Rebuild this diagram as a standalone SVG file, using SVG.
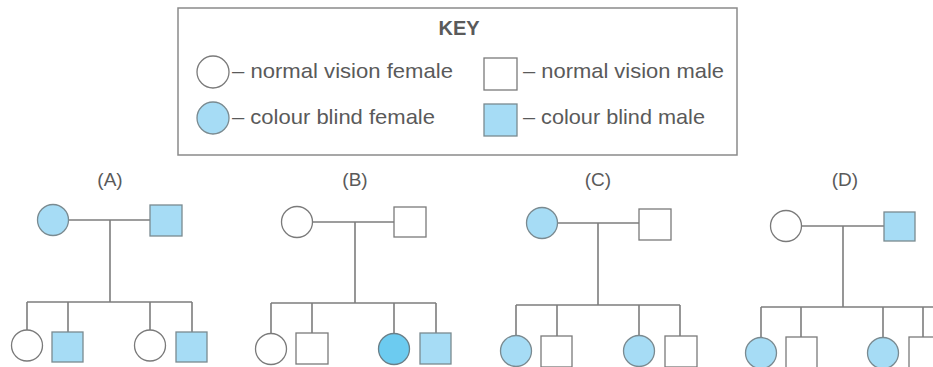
<svg xmlns="http://www.w3.org/2000/svg" width="933" height="367" viewBox="0 0 933 367">
<style>
  .bg{fill:#ffffff}
  .ln{stroke:#7d7d7d;stroke-width:1.6;fill:none}
  .w{fill:#ffffff;stroke:#7a7a7a;stroke-width:1.3}
  .b{fill:#a6dcf5;stroke:#7a8a90;stroke-width:1.3}
  .d{fill:#6ccbf0;stroke:#6a7f88;stroke-width:1.3}
  .t{font-family:"Liberation Sans",Arial,sans-serif;font-size:21px;fill:#5a5a5a}
  .k{font-family:"Liberation Sans",Arial,sans-serif;font-size:20px;font-weight:bold;fill:#5a5a5a}
  .lab{font-family:"Liberation Sans",Arial,sans-serif;font-size:19px;fill:#5a5a5a;text-anchor:middle}
</style>
<rect class="bg" x="0" y="0" width="933" height="367"/>
<g id="key">
  <rect x="178" y="8" width="559" height="147" fill="#ffffff" stroke="#8a8a8a" stroke-width="1.5"/>
  <text class="k" x="459" y="35" text-anchor="middle">KEY</text>
  <circle class="w" cx="213" cy="72" r="16"/>
  <text class="t" x="232" y="78" textLength="221" lengthAdjust="spacingAndGlyphs">– normal vision female</text>
  <circle class="b" cx="213" cy="118" r="16"/>
  <text class="t" x="232" y="124" textLength="203" lengthAdjust="spacingAndGlyphs">– colour blind female</text>
  <rect class="w" x="484" y="58" width="33" height="32"/>
  <text class="t" x="523" y="78" textLength="201" lengthAdjust="spacingAndGlyphs">– normal vision male</text>
  <rect class="b" x="484" y="104" width="33" height="32"/>
  <text class="t" x="523" y="124" textLength="182" lengthAdjust="spacingAndGlyphs">– colour blind male</text>
</g>
<g id="labels">
  <text class="lab" x="110" y="186">(A)</text>
  <text class="lab" x="355" y="186">(B)</text>
  <text class="lab" x="598" y="186">(C)</text>
  <text class="lab" x="845" y="186">(D)</text>
</g>
<g id="connectors">
  <path class="ln" d="M68.5 220H150 M110 220V302 M27 302H192 M27 302V330 M68 302V332 M150 302V330 M192 302V332"/>
  <path class="ln" d="M312.5 222H394 M355 222V303 M271 303H436 M271 303V333.5 M312 303V333 M394 303V333.5 M436 303V333"/>
  <path class="ln" d="M557.5 223H639 M598 223V305 M516 305H680 M516 305V335.5 M557 305V336 M639 305V335.5 M680 305V336"/>
  <path class="ln" d="M801.5 226H884 M843 226V307 M761 307H933 M761 307V337.5 M801 307V337 M883 307V337.5 M923 307V337"/>
</g>
<g id="pedA">
  <circle id="A-mother" class="b" cx="53" cy="220" r="15.5"/>
  <rect id="A-father" class="b" x="150" y="205" width="32" height="31"/>
  <circle id="A-c1" class="w" cx="27" cy="345.5" r="15.5"/>
  <rect id="A-c2" class="b" x="52" y="332" width="31" height="30"/>
  <circle id="A-c3" class="w" cx="150" cy="345.5" r="15.5"/>
  <rect id="A-c4" class="b" x="176" y="332" width="31" height="30"/>
</g>
<g id="pedB">
  <circle id="B-mother" class="w" cx="297" cy="222" r="15.5"/>
  <rect id="B-father" class="w" x="394" y="207" width="32" height="30"/>
  <circle id="B-c1" class="w" cx="271" cy="349" r="15.5"/>
  <rect id="B-c2" class="w" x="296" y="333" width="32" height="31"/>
  <circle id="B-c3" class="d" cx="394" cy="349" r="15.5"/>
  <rect id="B-c4" class="b" x="420" y="333" width="31" height="31"/>
</g>
<g id="pedC">
  <circle id="C-mother" class="b" cx="542" cy="223" r="15.5"/>
  <rect id="C-father" class="w" x="639" y="209" width="32" height="31"/>
  <circle id="C-c1" class="b" cx="516" cy="351" r="15.5"/>
  <rect id="C-c2" class="w" x="541" y="336" width="31" height="31"/>
  <circle id="C-c3" class="b" cx="639" cy="351" r="15.5"/>
  <rect id="C-c4" class="w" x="665" y="336" width="32" height="31"/>
</g>
<g id="pedD">
  <circle id="D-mother" class="w" cx="786" cy="226" r="15.5"/>
  <rect id="D-father" class="b" x="884" y="212" width="31" height="29"/>
  <circle id="D-c1" class="b" cx="761" cy="353" r="15.5"/>
  <rect id="D-c2" class="w" x="786" y="337" width="31" height="31"/>
  <circle id="D-c3" class="b" cx="883" cy="353" r="15.5"/>
  <rect id="D-c4" class="w" x="909" y="337" width="31" height="31"/>
</g>
</svg>
